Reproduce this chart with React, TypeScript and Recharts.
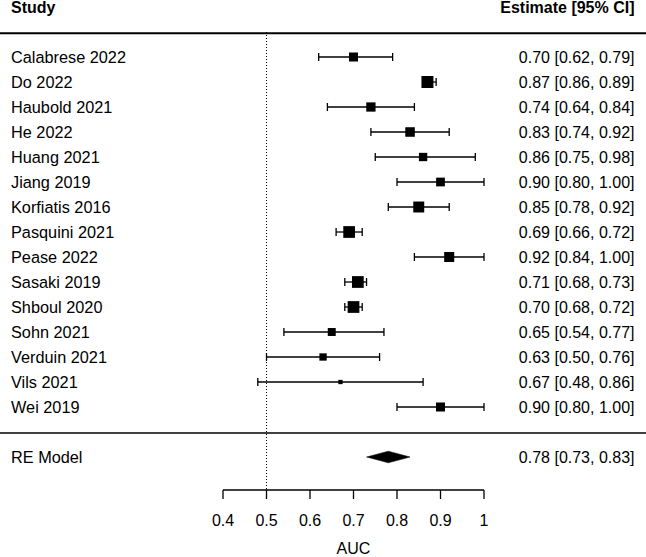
import React from "react";
import {
  ScatterChart,
  Scatter,
  XAxis,
  YAxis,
  ErrorBar,
  ReferenceLine,
  ReferenceArea,
} from "recharts";

// ---- data ----
const studies = [
  "Calabrese 2022",
  "Do 2022",
  "Haubold 2021",
  "He 2022",
  "Huang 2021",
  "Jiang 2019",
  "Korfiatis 2016",
  "Pasquini 2021",
  "Pease 2022",
  "Sasaki 2019",
  "Shboul 2020",
  "Sohn 2021",
  "Verduin 2021",
  "Vils 2021",
  "Wei 2019",
];
const estimates = [0.7, 0.87, 0.74, 0.83, 0.86, 0.9, 0.85, 0.69, 0.92, 0.71, 0.7, 0.65, 0.63, 0.67, 0.9];
const lowerCI = [0.62, 0.86, 0.64, 0.74, 0.75, 0.8, 0.78, 0.66, 0.84, 0.68, 0.68, 0.54, 0.5, 0.48, 0.8];
const upperCI = [0.79, 0.89, 0.84, 0.92, 0.98, 1.0, 0.92, 0.72, 1.0, 0.73, 0.72, 0.77, 0.76, 0.86, 1.0];
const weights = [5.6, 7.9, 5.8, 6.0, 5.1, 5.4, 7.1, 7.7, 6.4, 7.7, 7.7, 4.8, 4.3, 2.0, 5.6];

const modelLabel = "RE Model";
const modelEstimate = 0.78;
const modelLower = 0.73;
const modelUpper = 0.83;

const xTicks = [0.4, 0.5, 0.6, 0.7, 0.8, 0.9, 1.0];
const nullValue = 0.5;
const xLabel = "AUC";
const leftHeader = "Study";
const rightHeader = "Estimate [95% CI]";

// ---- layout ----
const FONT = "'Liberation Sans', Arial, Helvetica, sans-serif";
const MODEL_ROW = studies.length + 1;
const SEP_ROW = studies.length;
const HEADER_ROW = -2;
const HEADER_LINE_ROW = -0.95;
const Y_DOMAIN: [number, number] = [-2.28, 17.32];

const wMin = Math.min(...weights);
const wMax = Math.max(...weights);
const sideFor = (w: number) => 4.3 + ((w - wMin) / (wMax - wMin)) * 7.7;

const fmt = (v: number) => v.toFixed(2);

const points = studies.map((name, i) => ({
  name,
  x: estimates[i],
  y: i,
  w: weights[i],
  err: [estimates[i] - lowerCI[i], upperCI[i] - estimates[i]],
}));

const leftLabels: Record<number, string> = { [HEADER_ROW]: leftHeader, [MODEL_ROW]: modelLabel };
const rightLabels: Record<number, string> = {
  [HEADER_ROW]: rightHeader,
  [MODEL_ROW]: `${fmt(modelEstimate)} [${fmt(modelLower)}, ${fmt(modelUpper)}]`,
};
studies.forEach((s, i) => {
  leftLabels[i] = s;
  rightLabels[i] = `${fmt(estimates[i])} [${fmt(lowerCI[i])}, ${fmt(upperCI[i])}]`;
});
const rowTicks = [HEADER_ROW, ...studies.map((_, i) => i), MODEL_ROW];

const LeftTick = (props: any) => {
  const { y, payload } = props;
  const v = payload.value;
  const isHeader = v === HEADER_ROW;
  return (
    <text
      x={11}
      y={y + 5.7}
      textAnchor="start"
      fontSize={isHeader ? 16 : 16.3}
      fontFamily={FONT}
      fontWeight={isHeader ? 700 : 400}
      fill="#000"
    >
      {leftLabels[v]}
    </text>
  );
};

const RightTick = (props: any) => {
  const { y, payload } = props;
  const v = payload.value;
  return (
    <text
      x={634.5}
      y={y + 5.7}
      textAnchor="end"
      fontSize={16}
      fontFamily={FONT}
      fontWeight={v === HEADER_ROW ? 700 : 400}
      fill="#000"
    >
      {rightLabels[v]}
    </text>
  );
};

const SquareShape = (props: any) => {
  const { cx, cy, payload } = props;
  const s = sideFor(payload.w);
  return <rect x={cx - s / 2} y={cy - s / 2} width={s} height={s} fill="#000" />;
};

const DiamondShape = (props: any) => {
  const { x, y, width, height } = props;
  const midX = x + width / 2;
  const midY = y + height / 2;
  const pts = `${x},${midY} ${midX},${y} ${x + width},${midY} ${midX},${y + height}`;
  return <polygon points={pts} fill="#000" stroke="#000" strokeWidth={0.5} />;
};

export default function App() {
  return (
    <div style={{ position: "absolute", left: 0, top: 0, background: "#fff" }}>
      <ScatterChart width={646} height={557} margin={{ top: 0, right: 0, bottom: 0, left: 0 }}>
        <XAxis
          type="number"
          dataKey="x"
          domain={[0.4, 1.0]}
          ticks={xTicks}
          interval={0}
          allowDataOverflow
          height={67}
          tickSize={9}
          tickMargin={16}
          axisLine={{ stroke: "#000", strokeWidth: 1.3 }}
          tickLine={{ stroke: "#000", strokeWidth: 1.3 }}
          tick={{ fill: "#000", fontSize: 16, fontFamily: FONT }}
          tickFormatter={(v: number) => (v === 1 ? "1" : v.toFixed(1))}
          label={{ value: xLabel, position: "insideBottom", offset: 3, fill: "#000", fontSize: 16, fontFamily: FONT }}
        />
        <YAxis
          yAxisId="left"
          type="number"
          dataKey="y"
          domain={Y_DOMAIN}
          reversed
          allowDataOverflow
          ticks={rowTicks}
          interval={0}
          width={223}
          axisLine={false}
          tickLine={false}
          tick={<LeftTick />}
        />
        <YAxis
          yAxisId="right"
          orientation="right"
          type="number"
          domain={Y_DOMAIN}
          reversed
          allowDataOverflow
          ticks={rowTicks}
          interval={0}
          width={162}
          axisLine={false}
          tickLine={false}
          tick={<RightTick />}
        />
        <ReferenceLine
          yAxisId="left"
          ifOverflow="visible"
          segment={[
            { x: nullValue, y: -1 },
            { x: nullValue, y: Y_DOMAIN[1] },
          ]}
          stroke="#000"
          strokeWidth={1}
          strokeDasharray="1 2"
        />
        <ReferenceLine
          yAxisId="left"
          ifOverflow="visible"
          segment={[
            { x: -0.12, y: HEADER_LINE_ROW },
            { x: 1.38, y: HEADER_LINE_ROW },
          ]}
          stroke="#000"
          strokeWidth={1.8}
        />
        <ReferenceLine
          yAxisId="left"
          ifOverflow="visible"
          segment={[
            { x: -0.12, y: SEP_ROW + 0.04 },
            { x: 1.38, y: SEP_ROW + 0.04 },
          ]}
          stroke="#000"
          strokeWidth={1.3}
        />
        <Scatter yAxisId="left" data={points} shape={<SquareShape />} isAnimationActive={false}>
          <ErrorBar dataKey="err" direction="x" width={4} stroke="#000" strokeWidth={1.3} isAnimationActive={false} />
        </Scatter>
        <ReferenceArea
          yAxisId="left"
          x1={modelLower}
          x2={modelUpper}
          y1={MODEL_ROW - 0.232}
          y2={MODEL_ROW + 0.232}
          ifOverflow="visible"
          shape={<DiamondShape />}
        />
      </ScatterChart>
    </div>
  );
}
